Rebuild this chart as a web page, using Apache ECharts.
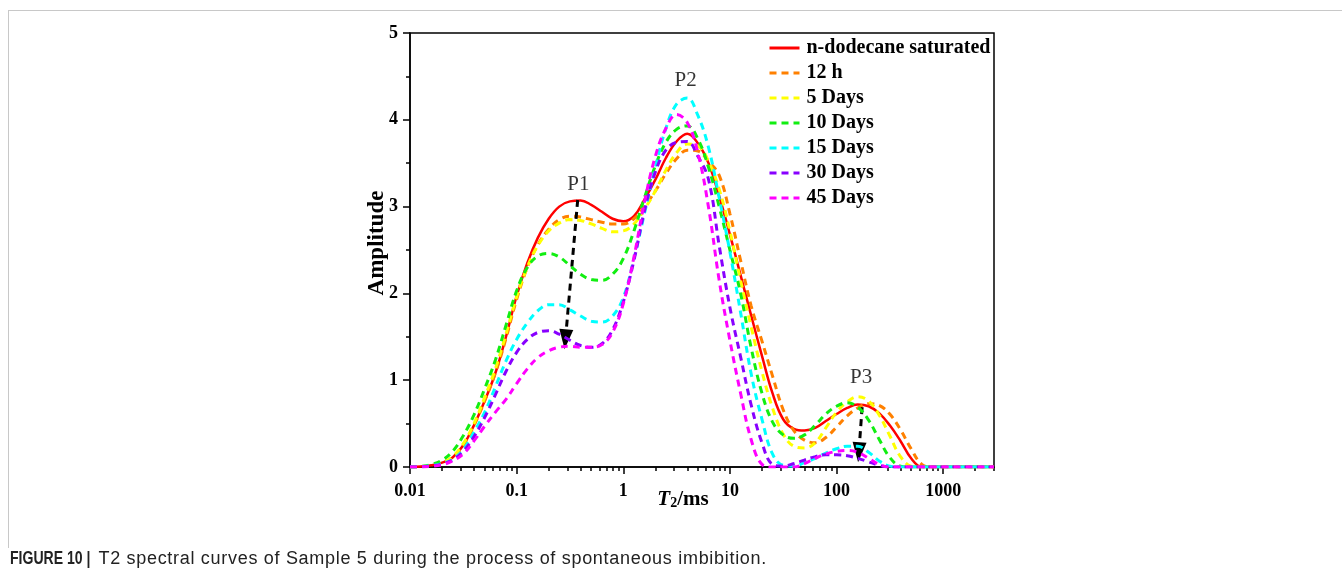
<!DOCTYPE html>
<html>
<head>
<meta charset="utf-8">
<script src="https://cdn.jsdelivr.net/npm/echarts@6/dist/echarts.min.js"></script>
<style>
  html, body { margin: 0; padding: 0; background: #fff; }
  #wrap { position: relative; width: 1342px; height: 577px; overflow: hidden; }
  #frame { position: absolute; left: 8px; top: 10px; width: 1334px; height: 537px;
           border-top: 1px solid #c8c8c8; border-left: 1px solid #c8c8c8; }
  #chart { position: absolute; left: 0; top: 0; width: 1342px; height: 577px; }
  #caption { position: absolute; left: 10px; top: 548px; white-space: nowrap;
             font-family: 'Liberation Sans', Arial, sans-serif; font-size: 18px; color: #222;
             letter-spacing: 0.7px; }
  #caption b { display: inline-block; letter-spacing: 0; transform: scaleX(0.78);
               transform-origin: 0 0; margin-right: -20px; }
</style>
</head>
<body>
<div id="wrap">
  <div id="frame"></div>
  <div id="chart"></div>
  <div id="caption"><b>FIGURE 10 |</b> T2 spectral curves of Sample 5 during the process of spontaneous imbibition.</div>
</div>
<script>
// Relaxation time grid (ms), 10 points per decade
const T2 = [
  0.01, 0.0126, 0.0158, 0.02, 0.0251, 0.0316, 0.0398, 0.0501, 0.0631, 0.0794,
  0.1, 0.126, 0.158, 0.2, 0.251, 0.316, 0.398, 0.501, 0.631, 0.794,
  1, 1.26, 1.58, 2.0, 2.51, 3.16, 3.98, 5.01, 6.31, 7.94,
  10, 12.6, 15.8, 20, 25.1, 31.6, 39.8, 50.1, 63.1, 79.4,
  100, 126, 158, 200, 251, 316, 398, 501, 631, 794,
  1000, 1259, 1585, 1995, 2512, 3000
];

// Amplitude of each spectrum on the T2 grid
const saturated = [
  0, 0.005, 0.02, 0.05, 0.11, 0.25, 0.48, 0.76, 1.08, 1.50,
  1.97, 2.35, 2.64, 2.86, 3.00, 3.06, 3.07, 3.02, 2.94, 2.86,
  2.83, 2.89, 3.08, 3.31, 3.56, 3.75, 3.84, 3.73, 3.50, 3.12,
  2.68, 2.21, 1.75, 1.28, 0.85, 0.55, 0.44, 0.42, 0.45, 0.53,
  0.61, 0.68, 0.72, 0.70, 0.62, 0.48, 0.30, 0.10, 0, 0,
  0, 0, 0, 0, 0, 0
];
const hours12 = [
  0, 0.005, 0.02, 0.05, 0.11, 0.25, 0.48, 0.76, 1.08, 1.48,
  1.93, 2.30, 2.56, 2.74, 2.85, 2.89, 2.88, 2.85, 2.82, 2.80,
  2.80, 2.86, 3.00, 3.18, 3.38, 3.55, 3.65, 3.64, 3.52, 3.36,
  2.92, 2.38, 1.86, 1.45, 1.05, 0.66, 0.42, 0.31, 0.28, 0.34,
  0.46, 0.59, 0.68, 0.73, 0.71, 0.61, 0.43, 0.21, 0.03, 0,
  0, 0, 0, 0, 0, 0
];
const days5 = [
  0, 0.005, 0.02, 0.05, 0.12, 0.27, 0.50, 0.80, 1.13, 1.53,
  1.96, 2.30, 2.55, 2.72, 2.81, 2.85, 2.84, 2.80, 2.75, 2.71,
  2.72, 2.80, 2.97, 3.18, 3.42, 3.62, 3.72, 3.70, 3.52, 3.20,
  2.72, 2.15, 1.62, 1.10, 0.68, 0.38, 0.24, 0.22, 0.28, 0.45,
  0.63, 0.75, 0.81, 0.76, 0.60, 0.36, 0.12, 0.01, 0, 0,
  0, 0, 0, 0, 0, 0
];
const days10 = [
  0, 0.006, 0.03, 0.08, 0.18, 0.36, 0.60, 0.90, 1.23, 1.63,
  2.03, 2.30, 2.43, 2.46, 2.42, 2.32, 2.22, 2.16, 2.15, 2.22,
  2.40, 2.72, 3.10, 3.47, 3.74, 3.89, 3.93, 3.78, 3.45, 3.00,
  2.50, 2.00, 1.38, 0.85, 0.52, 0.37, 0.33, 0.37, 0.48, 0.61,
  0.70, 0.74, 0.69, 0.54, 0.32, 0.11, 0.01, 0, 0, 0,
  0, 0, 0, 0, 0, 0
];
const days15 = [
  0, 0.003, 0.015, 0.04, 0.09, 0.20, 0.40, 0.63, 0.92, 1.22,
  1.47, 1.66, 1.80, 1.87, 1.87, 1.81, 1.74, 1.68, 1.67, 1.74,
  1.95, 2.40, 2.92, 3.45, 3.90, 4.18, 4.25, 4.05, 3.68, 3.10,
  2.48, 1.78, 1.08, 0.55, 0.15, 0.02, 0.01, 0.05, 0.10, 0.16,
  0.21, 0.24, 0.24, 0.17, 0.07, 0.01, 0, 0, 0, 0,
  0, 0, 0, 0, 0, 0
];
const days30 = [
  0, 0.003, 0.012, 0.035, 0.08, 0.18, 0.35, 0.57, 0.83, 1.10,
  1.32, 1.47, 1.55, 1.57, 1.53, 1.46, 1.40, 1.38, 1.42, 1.58,
  1.90, 2.38, 2.95, 3.40, 3.65, 3.74, 3.75, 3.58, 3.31, 2.55,
  1.84, 1.27, 0.72, 0.28, 0.03, 0.01, 0.04, 0.08, 0.12, 0.14,
  0.14, 0.13, 0.10, 0.06, 0.02, 0, 0, 0, 0, 0,
  0, 0, 0, 0, 0, 0
];
const days45 = [
  0, 0.002, 0.008, 0.025, 0.07, 0.15, 0.30, 0.47, 0.63, 0.78,
  0.96, 1.13, 1.26, 1.34, 1.38, 1.39, 1.38, 1.38, 1.41, 1.55,
  1.88, 2.42, 3.05, 3.58, 3.90, 4.06, 3.97, 3.62, 2.99, 2.15,
  1.46, 0.85, 0.32, 0.03, 0, 0, 0, 0.04, 0.10, 0.15,
  0.18, 0.19, 0.17, 0.10, 0.03, 0, 0, 0, 0, 0,
  0, 0, 0, 0, 0, 0
];

const seriesNames = ['n-dodecane saturated', '12 h', '5 Days', '10 Days', '15 Days', '30 Days', '45 Days'];
const seriesValues = [saturated, hours12, days5, days10, days15, days30, days45];
const seriesColors = ['#ff0000', '#ff8000', '#ffff00', '#11ee11', '#00ffff', '#8800ff', '#ff00ff'];

// Tick labels of the T2 axis
const majorTicks = [0.01, 0.1, 1, 10, 100, 1000];
const majorLabels = ['0.01', '0.1', '1', '10', '100', '1000'];

// Peak markers and the shift arrows
const peakNames = ['P1', 'P2', 'P3'];
const peakPos = [[0.38, 3.26], [3.84, 4.45], [170, 1.03]];
const arrowP1 = [[0.374, 3.076], [0.287, 1.47]];
const arrowP3 = [[174, 0.69], [162, 0.17]];

// minor ticks at 2..9 of every decade inside the axis range
const minorTicks = [];
for (let e = -2; e <= 3; e++) {
  for (let m = 2; m <= 9; m++) {
    const v = +(m * Math.pow(10, e)).toPrecision(3);
    if (v <= 3000) minorTicks.push(v);
  }
}

const serif = "'Liberation Serif', 'Times New Roman', serif";
const axisColor = '#000';

function labelFor(v) {
  for (let i = 0; i < majorTicks.length; i++) {
    if (Math.abs(Math.log10(v) - Math.log10(majorTicks[i])) < 1e-6) return majorLabels[i];
  }
  return '';
}

const chart = echarts.init(document.getElementById('chart'), null, { renderer: 'canvas' });

const lineSeries = seriesNames.map((name, i) => ({
  name: name,
  type: 'line',
  xAxisIndex: 0,
  data: T2.map((t, j) => [t, seriesValues[i][j]]),
  smooth: 0.4,
  symbol: 'none',
  showSymbol: false,
  lineStyle: {
    color: seriesColors[i],
    width: i === 0 ? 2.5 : 3,
    type: i === 0 ? 'solid' : [7, 5]
  },
  itemStyle: { color: seriesColors[i] },
  z: 2 + i
}));

const annotationSeries = {
  name: 'peaks',
  type: 'scatter',
  xAxisIndex: 0,
  data: peakNames.map((n, i) => ({ name: n, value: peakPos[i] })),
  symbolSize: 1,
  itemStyle: { color: 'rgba(0,0,0,0)' },
  label: {
    show: true, position: 'inside', formatter: '{b}',
    fontFamily: serif, fontSize: 21, color: '#000'
  },
  markLine: {
    silent: true,
    symbol: ['none', 'triangle'],
    symbolSize: [14, 20],
    label: { show: false },
    lineStyle: { color: '#000', width: 3, type: [7, 5] },
    data: [
      [{ coord: arrowP1[0] }, { coord: arrowP1[1] }],
      [{ coord: arrowP3[0] }, { coord: arrowP3[1] }]
    ]
  },
  z: 20
};

chart.setOption({
  animation: false,
  grid: {
    left: 410, right: 348, top: 33, bottom: 110,
    show: true, borderColor: '#000', borderWidth: 1.5, backgroundColor: 'transparent'
  },
  legend: {
    data: seriesNames,
    orient: 'vertical',
    left: 763, top: 33,
    itemWidth: 30, itemHeight: 12, itemGap: 5,
    itemStyle: { opacity: 0 },
    lineStyle: { width: 3 },
    textStyle: { fontFamily: serif, fontWeight: 'bold', fontSize: 20, color: '#000', padding: [0, 0, 0, 2] }
  },
  xAxis: [
    {
      type: 'log', logBase: 10, min: 0.01, max: 3000,
      position: 'bottom',
      axisLine: { onZero: false, lineStyle: { color: axisColor, width: 1.5 } },
      axisTick: { customValues: majorTicks, length: 7, lineStyle: { color: axisColor, width: 1.5 } },
      axisLabel: {
        customValues: majorTicks, formatter: labelFor, margin: 15,
        fontFamily: serif, fontWeight: 'bold', fontSize: 18, color: '#000'
      },
      splitLine: { show: false },
      name: '{i|T}{s|2}{r|/ms}',
      nameLocation: 'middle',
      nameGap: 22,
      nameMoveOverlap: false,
      nameTextStyle: {
        padding: [0, 38, 0, 0],
        rich: {
          i: { fontFamily: serif, fontStyle: 'italic', fontWeight: 'bold', fontSize: 21, color: '#000', verticalAlign: 'middle' },
          s: { fontFamily: serif, fontWeight: 'bold', fontSize: 14, color: '#000', lineHeight: 14, padding: [14, 0, 0, 0], verticalAlign: 'bottom' },
          r: { fontFamily: serif, fontWeight: 'bold', fontSize: 21, color: '#000', verticalAlign: 'middle' }
        }
      }
    },
    {
      type: 'log', logBase: 10, min: 0.01, max: 3000,
      position: 'bottom',
      axisLine: { show: false, onZero: false },
      axisTick: { customValues: minorTicks, length: 4, lineStyle: { color: axisColor, width: 1.5 } },
      axisLabel: { show: false },
      splitLine: { show: false }
    }
  ],
  yAxis: {
    type: 'value', min: 0, max: 5, interval: 1,
    axisLine: { show: true, onZero: false, lineStyle: { color: axisColor, width: 1.5 } },
    axisTick: { show: true, length: 7, lineStyle: { color: axisColor, width: 1.5 } },
    minorTick: { show: true, splitNumber: 2, length: 4, lineStyle: { color: axisColor, width: 1.5 } },
    splitLine: { show: false },
    axisLabel: { margin: 12, fontFamily: serif, fontWeight: 'bold', fontSize: 18, color: '#000' },
    name: 'Amplitude',
    nameLocation: 'middle',
    nameGap: 21,
    nameMoveOverlap: false,
    nameTextStyle: { fontFamily: serif, fontWeight: 'bold', fontSize: 23, color: '#000', padding: [0, 0, 0, 14] }
  },
  series: lineSeries.concat([annotationSeries])
});
</script>
</body>
</html>
